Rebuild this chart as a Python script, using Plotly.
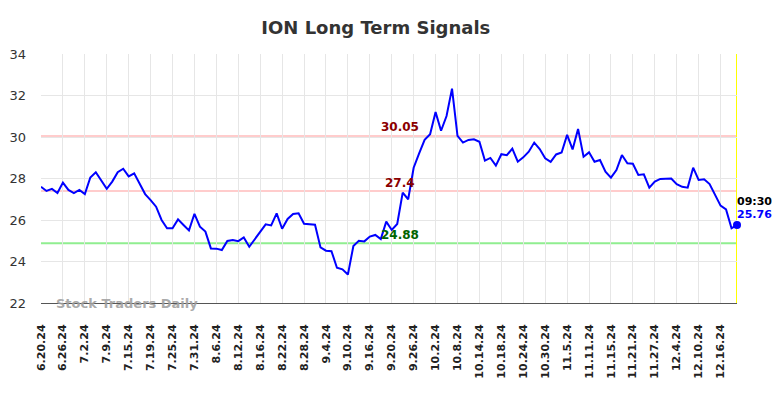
import plotly.graph_objects as go

title_text = "ION Long Term Signals"

prices = [
    27.60, 27.40, 27.50, 27.30, 27.80, 27.45, 27.30, 27.45, 27.25, 28.05,
    28.30, 27.90, 27.50, 27.85, 28.30, 28.47, 28.10, 28.25, 27.77, 27.25,
    26.96, 26.64, 26.00, 25.60, 25.60, 26.03, 25.76, 25.50, 26.30, 25.68,
    25.44, 24.63, 24.62, 24.55, 24.99, 25.04, 24.98, 25.16, 24.71, 25.07,
    25.38, 25.79, 25.74, 26.32, 25.58, 26.05, 26.29, 26.32, 25.82, 25.79,
    25.77, 24.68, 24.52, 24.50, 23.70, 23.62, 23.37, 24.75, 25.00, 24.97,
    25.20, 25.28, 25.08, 25.92, 25.52, 25.81, 27.32, 27.00, 28.52, 29.21,
    29.86, 30.13, 31.20, 30.30, 31.01, 32.33, 30.06, 29.73, 29.86, 29.89,
    29.77, 28.86, 28.99, 28.62, 29.17, 29.12, 29.44, 28.81, 29.02, 29.29,
    29.73, 29.42, 28.97, 28.80, 29.16, 29.25, 30.10, 29.40, 30.39, 29.05,
    29.26, 28.81, 28.89, 28.33, 28.04, 28.41, 29.13, 28.73, 28.71, 28.17,
    28.20, 27.56, 27.85, 27.98, 28.00, 28.00, 27.73, 27.60, 27.56, 28.52,
    27.93, 27.96, 27.73, 27.20, 26.69, 26.51, 25.60, 25.76,
]

tick_labels = [
    "6.20.24", "6.26.24", "7.2.24", "7.9.24", "7.15.24", "7.19.24", "7.25.24",
    "7.31.24", "8.6.24", "8.12.24", "8.16.24", "8.22.24", "8.28.24", "9.4.24",
    "9.10.24", "9.16.24", "9.20.24", "9.26.24", "10.2.24", "10.8.24",
    "10.14.24", "10.18.24", "10.24.24", "10.30.24", "11.5.24", "11.11.24",
    "11.15.24", "11.21.24", "11.27.24", "12.4.24", "12.10.24", "12.16.24",
]
tick_step = 4

resistance_high = 30.05
resistance_low = 27.4
support = 24.88
last_time = "09:30"
last_price = 25.76

y_ticks = [22, 24, 26, 28, 30, 32, 34]

x = list(range(len(prices)))
last_i = len(prices) - 1
tickvals = [i * tick_step for i in range(len(tick_labels))]
label_i = 65.5

font = "DejaVu Sans, Verdana, sans-serif"

fig = go.Figure()

for lvl, col in [(resistance_high, "#ffcccc"), (resistance_low, "#ffcccc"), (support, "#90ee90")]:
    fig.add_shape(type="line", xref="paper", x0=0, x1=1, yref="y", y0=lvl, y1=lvl,
                  line=dict(color=col, width=2), layer="below")

fig.add_shape(type="line", xref="x", x0=last_i, x1=last_i, yref="paper", y0=0, y1=1,
              line=dict(color="#ffff00", width=2), layer="below")

fig.add_trace(go.Scatter(x=x, y=prices, mode="lines", cliponaxis=False,
                         line=dict(color="#0000ff", width=2), hoverinfo="skip"))
fig.add_trace(go.Scatter(x=[last_i], y=[prices[-1]], mode="markers", cliponaxis=False,
                         marker=dict(color="#0000ff", size=8), hoverinfo="skip"))

fig.add_annotation(x=label_i, y=resistance_high, text="<b>%.2f</b>" % resistance_high,
                   showarrow=False, yshift=9, font=dict(color="#8b0000", size=12, family=font))
fig.add_annotation(x=label_i, y=resistance_low, text="<b>%s</b>" % resistance_low,
                   showarrow=False, yshift=8, font=dict(color="#8b0000", size=12, family=font))
fig.add_annotation(x=label_i, y=support, text="<b>%.2f</b>" % support,
                   showarrow=False, yshift=8, font=dict(color="#006400", size=12, family=font))
fig.add_annotation(x=last_i, y=prices[-1], text="<b>%s</b>" % last_time, xanchor="left",
                   showarrow=False, xshift=-2, yshift=23, font=dict(color="#000000", size=11, family=font))
fig.add_annotation(x=last_i, y=prices[-1], text="<b>%.2f</b>" % last_price, xanchor="left",
                   showarrow=False, xshift=-2, yshift=10, font=dict(color="#0000ff", size=11, family=font))

fig.add_annotation(xref="paper", yref="y", x=0.018, y=22, xanchor="left",
                   text="<b>Stock Traders Daily</b>", showarrow=False,
                   font=dict(color="rgba(160,160,160,0.9)", size=13, family=font))

fig.update_layout(
    width=776, height=390,
    margin=dict(l=33, r=47, t=46, b=95, autoexpand=False),
    paper_bgcolor="white", plot_bgcolor="white",
    showlegend=False,
    title=dict(text="<b>%s</b>" % title_text, x=0.474, xanchor="center", y=0.95, yanchor="middle",
               font=dict(size=18, color="#333333", family=font)),
    xaxis=dict(range=[0, last_i], tickmode="array", tickvals=tickvals,
               ticktext=["<b>%s</b>" % t for t in tick_labels],
               tickangle=-90, showgrid=True, gridcolor="#e6e6e6", zeroline=False,
               showline=True, linecolor="#555555", linewidth=1, ticks="",
               ticklabelstandoff=16,
               tickfont=dict(size=11, color="#222222", family=font)),
    yaxis=dict(range=[22, 34], tickvals=y_ticks, showgrid=True, gridcolor="#e6e6e6",
               zeroline=False, ticks="", ticklabelstandoff=14,
               tickfont=dict(size=13, color="#333333", family=font)),
)

fig.write_html("out.html")
